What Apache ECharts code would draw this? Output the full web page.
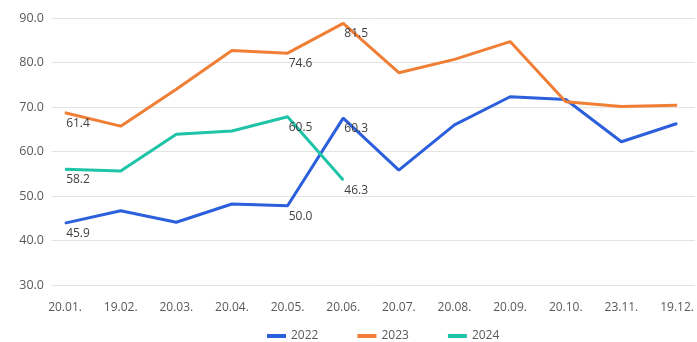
<!DOCTYPE html>
<html>
<head>
<meta charset="utf-8">
<script src="https://cdn.jsdelivr.net/npm/echarts@6/dist/echarts.min.js"></script>
<style>
  html, body { margin: 0; padding: 0; background: #fff; }
  #main { width: 697px; height: 342px; }
</style>
</head>
<body>
<div id="main"></div>
<script>
// 月度数据
var categories = ['20.01.', '19.02.', '20.03.', '20.04.', '20.05.', '20.06.',
  '20.07.', '20.08.', '20.09.', '20.10.', '23.11.', '19.12.'];
var years = ['2022', '2023', '2024'];
var values2022 = [43.9, 46.7, 44.1, 48.2, 47.8, 67.5, 55.8, 66.0, 72.3, 71.7, 62.2, 66.3];
var values2023 = [68.7, 65.7, 74.0, 82.7, 82.1, 88.8, 77.7, 80.7, 84.7, 71.2, 70.1, 70.4];
var values2024 = [56.0, 55.6, 63.9, 64.6, 67.8, 53.6];
// 图上标注的数字
var labels2022 = ['45.9', null, null, null, '50.0', '60.3'];
var labels2023 = ['61.4', null, null, null, '74.6', '81.5'];
var labels2024 = ['58.2', null, null, null, '60.5', '46.3'];
var yTicks = [30, 40, 50, 60, 70, 80, 90];

var colors = ['#2b5fdc', '#f07f35', '#1fc4a8'];

function pairs(vals) {
  return vals.map(function (v, i) { return [i, v]; });
}

function makeSeries(name, vals, labs, color) {
  return {
    name: name,
    type: 'line',
    data: pairs(vals),
    symbol: 'circle',
    symbolSize: 1,
    showSymbol: true,
    lineStyle: { width: 3, color: color },
    itemStyle: { color: color },
    label: {
      show: true,
      position: 'bottom',
      distance: 4,
      offset: [13, 0],
      color: '#404040',
      fontSize: 12,
      fontFamily: 'Open Sans',
      formatter: function (p) {
        return labs[p.dataIndex] || '';
      }
    }
  };
}

var chart = echarts.init(document.getElementById('main'));

var option = {
  backgroundColor: '#ffffff',
  animation: false,
  color: colors,
  grid: { left: 52, right: 2, top: 18, bottom: 57 },
  legend: {
    data: years,
    left: 262,
    top: 325,
    itemWidth: 19,
    itemHeight: 4,
    itemGap: 39,
    icon: 'rect',
    textStyle: { color: '#595959', fontSize: 12, fontFamily: 'Open Sans' }
  },
  xAxis: {
    type: 'value',
    min: -0.234,
    max: 11.323,
    splitLine: { show: false },
    axisLine: { show: false },
    axisTick: { show: false },
    axisLabel: {
      customValues: categories.map(function (c, i) { return i; }),
      formatter: function (v) { return categories[Math.round(v)]; },
      color: '#595959',
      fontSize: 12,
      fontFamily: 'Open Sans',
      margin: 17
    }
  },
  yAxis: {
    type: 'value',
    min: yTicks[0],
    max: yTicks[yTicks.length - 1],
    interval: 10,
    axisLine: { show: false },
    axisTick: { show: false },
    axisLabel: {
      color: '#595959',
      fontSize: 12.5,
      fontFamily: 'Open Sans',
      margin: 8,
      formatter: function (v) { return v.toFixed(1); }
    },
    splitLine: { lineStyle: { color: '#e3e3e3', width: 1 } }
  },
  series: [
    makeSeries(years[0], values2022, labels2022, colors[0]),
    makeSeries(years[1], values2023, labels2023, colors[1]),
    makeSeries(years[2], values2024, labels2024, colors[2])
  ]
};

chart.setOption(option);
</script>
</body>
</html>
